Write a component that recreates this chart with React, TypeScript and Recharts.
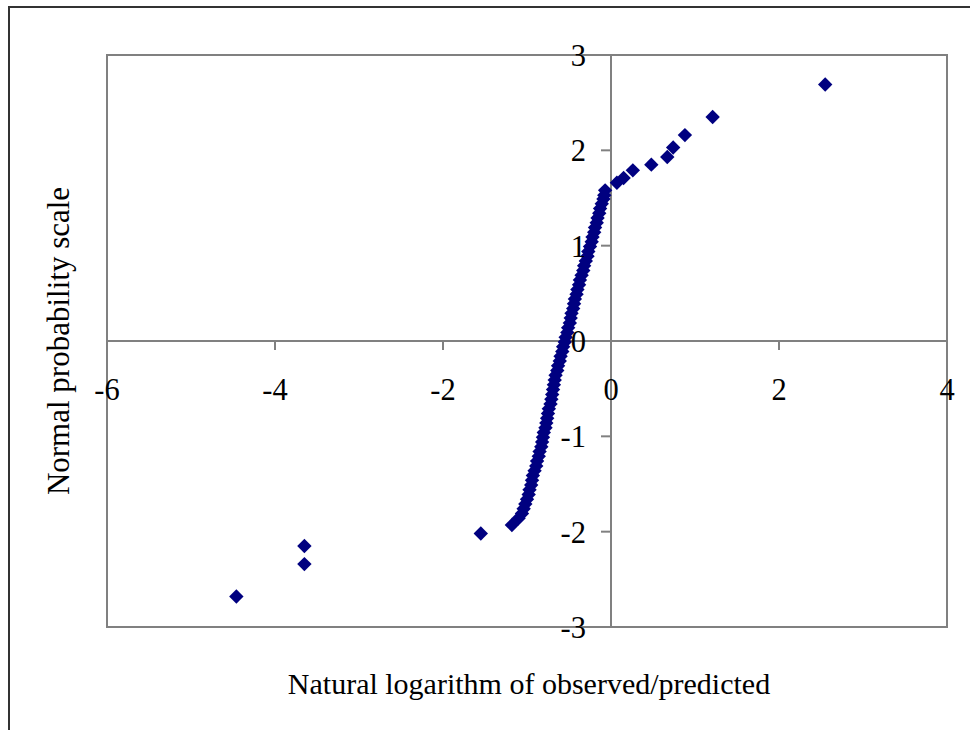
import { Label, ReferenceArea, ReferenceLine, Scatter, ScatterChart, XAxis, YAxis } from "recharts";

// Normal probability plot of ln(observed/predicted)

const lowerTailX = [-4.46, -3.65, -3.65, -1.55, -1.18];
const lowerTailY = [-2.68, -2.34, -2.15, -2.02, -1.93];

const coreX = [
  -1.1, -1.06, -1.04, -1.02, -1.0, -0.98, -0.97, -0.95, -0.94, -0.93, -0.91, -0.89, -0.88, -0.86,
  -0.85, -0.83, -0.82, -0.81, -0.8, -0.78, -0.77, -0.76, -0.75, -0.74, -0.72, -0.71, -0.7, -0.69,
  -0.68, -0.67, -0.66, -0.64, -0.63, -0.61, -0.6, -0.58, -0.57, -0.55, -0.54, -0.52, -0.51, -0.49,
  -0.48, -0.47, -0.45, -0.44, -0.43, -0.41, -0.4, -0.38, -0.37, -0.35, -0.33, -0.32, -0.3, -0.28,
  -0.27, -0.25, -0.23, -0.22, -0.2, -0.19, -0.17, -0.16, -0.14, -0.13, -0.11, -0.09, -0.08,
];
const coreY = [
  -1.86, -1.81, -1.76, -1.71, -1.66, -1.61, -1.56, -1.51, -1.46, -1.41, -1.36, -1.31, -1.26, -1.21,
  -1.16, -1.11, -1.06, -1.01, -0.96, -0.91, -0.86, -0.81, -0.76, -0.71, -0.66, -0.61, -0.56, -0.51,
  -0.46, -0.41, -0.36, -0.31, -0.26, -0.21, -0.16, -0.11, -0.06, -0.01, 0.04, 0.09, 0.14, 0.19,
  0.24, 0.29, 0.34, 0.39, 0.44, 0.49, 0.54, 0.59, 0.64, 0.69, 0.74, 0.79, 0.84, 0.89,
  0.94, 0.99, 1.04, 1.09, 1.14, 1.19, 1.24, 1.29, 1.34, 1.39, 1.44, 1.49, 1.53,
];

const upperTailX = [-0.07, 0.07, 0.15, 0.26, 0.48, 0.67, 0.74, 0.88, 1.21, 2.55];
const upperTailY = [1.58, 1.66, 1.71, 1.79, 1.85, 1.93, 2.03, 2.16, 2.35, 2.69];

const xTicks = [-6, -4, -2, 0, 2, 4];
const yTicks = [-3, -2, -1, 0, 1, 2, 3];

const X_DOMAIN: [number, number] = [-6, 4];
const Y_DOMAIN: [number, number] = [-3, 3];

const W = 970;
const H = 730;
const PLOT_LEFT = 107;
const PLOT_TOP = 55;
const PLOT_W = 840;
const PLOT_H = 572;
const ZERO_X = PLOT_LEFT + (PLOT_W * (0 - X_DOMAIN[0])) / (X_DOMAIN[1] - X_DOMAIN[0]);
const ZERO_Y = PLOT_TOP + (PLOT_H * (Y_DOMAIN[1] - 0)) / (Y_DOMAIN[1] - Y_DOMAIN[0]);

const FONT = '"Liberation Serif", "Times New Roman", serif';
const FS = 30.5;
const GRAY = "#808080";
const NAVY = "#000080";

const points = [
  ...lowerTailX.map((x, i) => ({ x, y: lowerTailY[i] })),
  ...coreX.map((x, i) => ({ x, y: coreY[i] })),
  ...upperTailX.map((x, i) => ({ x, y: upperTailY[i] })),
];

function XTick(props: any) {
  const { x, payload } = props;
  return (
    <g>
      <line x1={x} x2={x} y1={ZERO_Y} y2={ZERO_Y + 9} stroke={GRAY} strokeWidth={2} />
      <text x={x} y={ZERO_Y + 59} textAnchor="middle" fontSize={FS} fontFamily={FONT} fill="#000">
        {payload.value}
      </text>
    </g>
  );
}

function YTick(props: any) {
  const { y, payload } = props;
  return (
    <g>
      <line x1={ZERO_X - 10} x2={ZERO_X} y1={y} y2={y} stroke={GRAY} strokeWidth={2} />
      <text x={ZERO_X - 25} y={y + 11} textAnchor="end" fontSize={FS} fontFamily={FONT} fill="#000">
        {payload.value}
      </text>
    </g>
  );
}

function Diamond(props: any) {
  const { cx, cy } = props;
  if (cx == null || cy == null) return <g />;
  const r = 7.2;
  return <path d={`M${cx},${cy - r}L${cx + r},${cy}L${cx},${cy + r}L${cx - r},${cy}Z`} fill={NAVY} />;
}

export default function App() {
  return (
    <div style={{ position: "fixed", left: 0, top: 0, width: W, height: H, overflow: "hidden", background: "#fff" }}>
      <div
        style={{
          position: "absolute",
          left: 8,
          top: 6,
          width: W,
          height: H,
          borderLeft: "2px solid #333",
          borderTop: "2px solid #333",
        }}
      />
      <div style={{ position: "absolute", left: 0, top: 0 }}>
        <ScatterChart
          width={W}
          height={H}
          margin={{ top: PLOT_TOP, right: W - PLOT_LEFT - PLOT_W, bottom: 0, left: 0 }}
        >
          <ReferenceArea
            x1={X_DOMAIN[0]}
            x2={X_DOMAIN[1]}
            y1={Y_DOMAIN[0]}
            y2={Y_DOMAIN[1]}
            fill="none"
            fillOpacity={0}
            stroke={GRAY}
            strokeWidth={2}
          />
          <ReferenceLine y={0} stroke={GRAY} strokeWidth={2} />
          <ReferenceLine x={0} stroke={GRAY} strokeWidth={2} />
          <XAxis
            type="number"
            dataKey="x"
            domain={X_DOMAIN}
            ticks={xTicks}
            interval={0}
            allowDataOverflow
            height={H - PLOT_TOP - PLOT_H}
            axisLine={false}
            tickLine={false}
            tick={(p: any) => <XTick {...p} />}
          >
            <Label
              content={() => (
                <text
                  x={PLOT_LEFT + PLOT_W / 2 + 2}
                  y={694}
                  textAnchor="middle"
                  fontSize={30}
                  fontFamily={FONT}
                  fill="#000"
                >
                  Natural logarithm of observed/predicted
                </text>
              )}
            />
          </XAxis>
          <YAxis
            type="number"
            dataKey="y"
            domain={Y_DOMAIN}
            ticks={yTicks}
            interval={0}
            allowDataOverflow
            width={PLOT_LEFT}
            axisLine={false}
            tickLine={false}
            tick={(p: any) => <YTick {...p} />}
          >
            <Label
              content={() => (
                <text
                  x={69}
                  y={PLOT_TOP + PLOT_H / 2}
                  transform={`rotate(-90, 69, ${PLOT_TOP + PLOT_H / 2})`}
                  textAnchor="middle"
                  fontSize={31}
                  fontFamily={FONT}
                  fill="#000"
                >
                  Normal probability scale
                </text>
              )}
            />
          </YAxis>
          <Scatter data={points} shape={(p: any) => <Diamond {...p} />} isAnimationActive={false} />
        </ScatterChart>
      </div>
    </div>
  );
}
